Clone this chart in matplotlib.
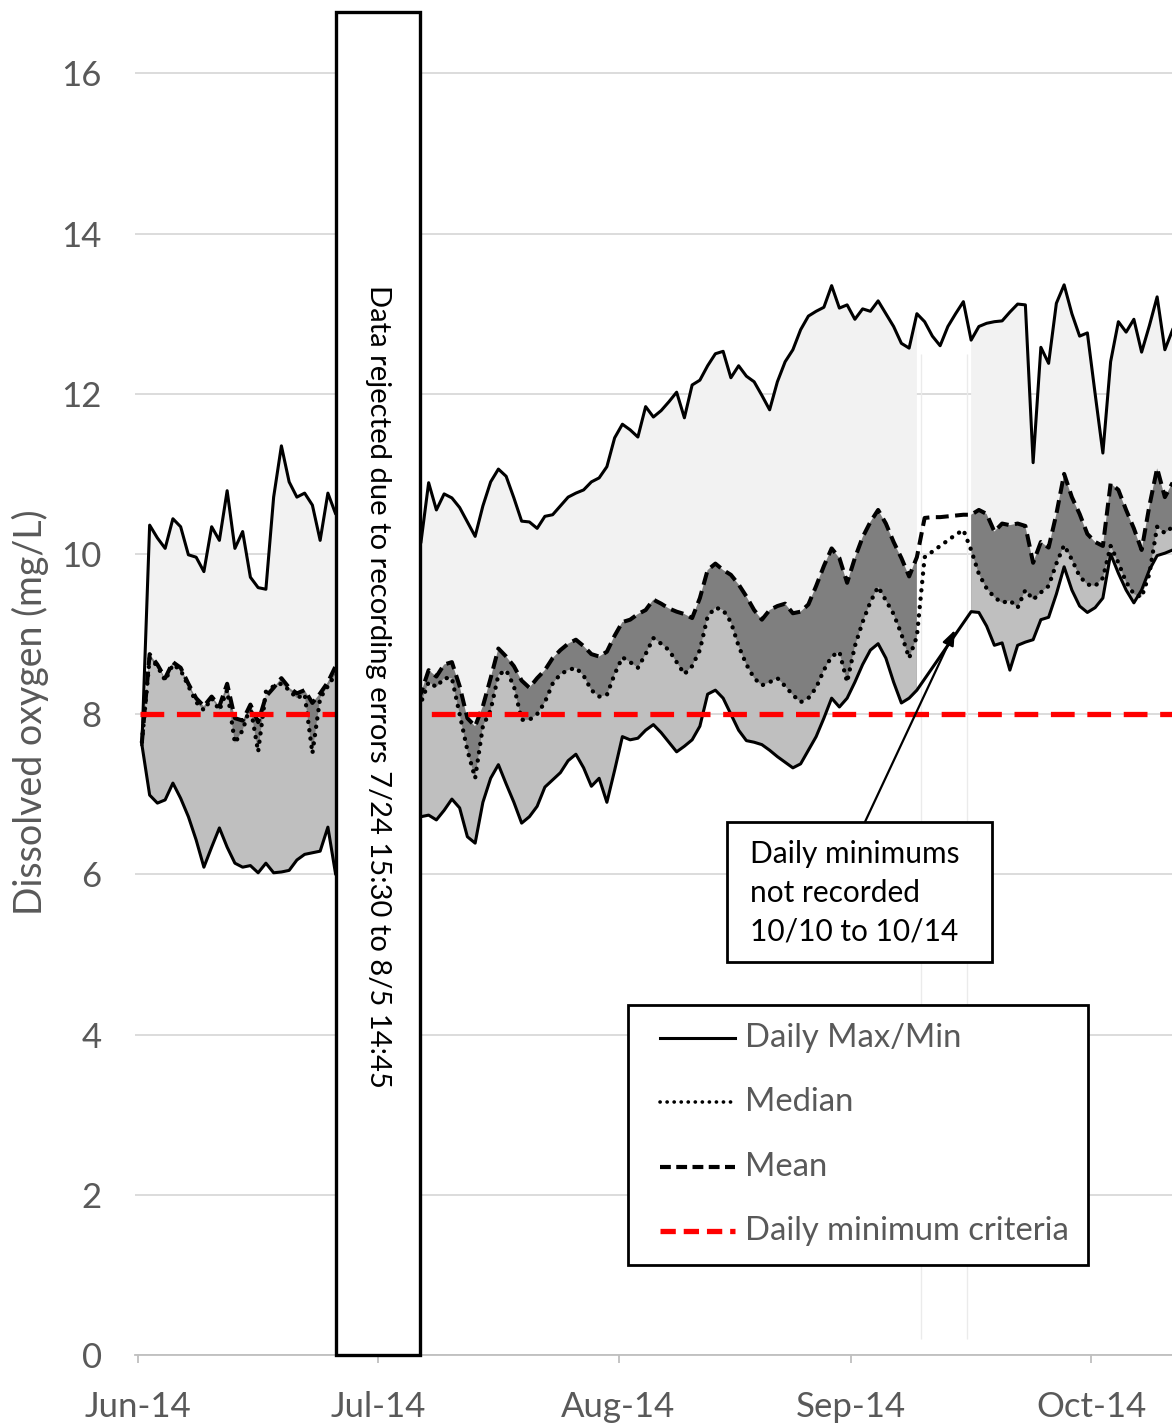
import numpy as np
import matplotlib.pyplot as plt
from matplotlib.lines import Line2D
from matplotlib.patches import Rectangle

plt.rcParams['font.family'] = ['Lato', 'DejaVu Sans']

# daily dissolved oxygen statistics (mg/L), one value per day; None = no data
daily_max = [7.62, 10.36, 10.2, 10.07, 10.44, 10.34, 9.99, 9.96, 9.78, 10.34,
             10.17, 10.79, 10.07, 10.28, 9.71, 9.58, 9.56, 10.71, 11.35, 10.9,
             10.71, 10.76, 10.61, 10.17, 10.76, 10.5,
             None, None, None, None, None, None, None, None, None, None,
             10.14, 10.89, 10.55, 10.75, 10.7, 10.58, 10.4, 10.22, 10.6, 10.9,
             11.06, 10.97, 10.7, 10.41, 10.4, 10.32, 10.47, 10.49, 10.6, 10.71,
             10.76, 10.8, 10.9, 10.95, 11.09, 11.45, 11.62, 11.55, 11.46, 11.84,
             11.71, 11.79, 11.9, 12.02, 11.7, 12.11, 12.17, 12.35, 12.5, 12.53,
             12.2, 12.35, 12.22, 12.15, 11.98, 11.8, 12.15, 12.4, 12.55, 12.8,
             12.97, 13.03, 13.08, 13.35, 13.07, 13.11, 12.93, 13.06, 13.03, 13.16,
             13.0, 12.84, 12.63, 12.57, 13.0,
             12.9, 12.72, 12.6, 12.84, 13.0, 13.15, 12.67, 12.84, 12.88, 12.9,
             12.91, 13.02, 13.12, 13.11, 11.14, 12.58, 12.38, 13.13, 13.36, 13.0,
             12.72, 12.76, 12.0, 11.26, 12.4, 12.9, 12.77, 12.93, 12.52, 12.85,
             13.21, 12.55, 12.8]

daily_min = [7.62, 6.99, 6.89, 6.93, 7.14, 6.95, 6.72, 6.43, 6.09, 6.34,
             6.58, 6.34, 6.14, 6.09, 6.11, 6.02, 6.14, 6.02, 6.03, 6.05,
             6.18, 6.25, 6.27, 6.29, 6.59, 6.0,
             None, None, None, None, None, None, None, None, None, None,
             6.72, 6.74, 6.68, 6.8, 6.94, 6.83, 6.47, 6.39, 6.9, 7.2,
             7.37, 7.13, 6.9, 6.64, 6.72, 6.85, 7.09, 7.18, 7.27, 7.42,
             7.5, 7.33, 7.1, 7.2, 6.9, 7.3, 7.72, 7.68, 7.7, 7.8,
             7.87, 7.77, 7.65, 7.53, 7.6, 7.68, 7.85, 8.25, 8.3, 8.2,
             8.0, 7.8, 7.67, 7.65, 7.62, 7.55, 7.47, 7.4, 7.33, 7.38,
             7.55, 7.72, 7.95, 8.2, 8.09, 8.2, 8.4, 8.62, 8.8, 8.88,
             8.7, 8.4, 8.14, 8.2, 8.3,
             None, None, None, None, None, None, 9.28, 9.27, 9.1, 8.86,
             8.89, 8.55, 8.86, 8.9, 8.93, 9.18, 9.21, 9.5, 9.84, 9.55,
             9.35, 9.27, 9.33, 9.45, 10.0, 9.76, 9.55, 9.39, 9.55, 9.8,
             9.98, 10.01, 10.05]

daily_mean = [7.65, 8.75, 8.62, 8.45, 8.65, 8.58, 8.38, 8.2, 8.1, 8.22,
              8.1, 8.38, 7.95, 7.92, 8.12, 7.9, 8.22, 8.33, 8.45, 8.33,
              8.26, 8.3, 8.14, 8.26, 8.4, 8.6,
              None, None, None, None, None, None, None, None, None, None,
              8.26, 8.55, 8.47, 8.62, 8.65, 8.35, 7.95, 7.85, 8.1, 8.45,
              8.82, 8.72, 8.6, 8.42, 8.33, 8.45, 8.55, 8.7, 8.8, 8.88,
              8.93, 8.85, 8.75, 8.72, 8.78, 8.98, 9.15, 9.18, 9.25, 9.3,
              9.43, 9.38, 9.32, 9.28, 9.25, 9.2, 9.45, 9.8, 9.88, 9.8,
              9.74, 9.62, 9.47, 9.3, 9.18, 9.3, 9.35, 9.38, 9.26, 9.28,
              9.37, 9.6, 9.85, 10.07, 9.95, 9.64, 9.95, 10.21, 10.4, 10.55,
              10.38, 10.15, 9.95, 9.72, 9.96,
              10.45, 10.46, 10.46, 10.47, 10.48, 10.49, 10.49, 10.55, 10.5, 10.28,
              10.38, 10.36, 10.38, 10.35, 9.89, 10.15, 10.08, 10.5, 11.0, 10.71,
              10.5, 10.25, 10.15, 10.1, 10.88, 10.8, 10.55, 10.32, 10.05, 10.6,
              11.07, 10.71, 10.89]

daily_median = [7.65, 8.7, 8.6, 8.42, 8.62, 8.55, 8.35, 8.15, 8.05, 8.2,
                8.05, 8.3, 7.64, 7.8, 8.1, 7.53, 8.28, 8.35, 8.38, 8.3,
                8.2, 8.25, 7.51, 8.2, 8.35, 8.5,
                None, None, None, None, None, None, None, None, None, None,
                8.14, 8.4, 8.34, 8.45, 8.45, 8.0, 7.55, 7.2, 7.85, 8.05,
                8.49, 8.55, 8.35, 7.93, 7.93, 8.0, 8.15, 8.38, 8.5, 8.55,
                8.58, 8.48, 8.3, 8.22, 8.24, 8.5, 8.71, 8.65, 8.58, 8.75,
                8.95, 8.88, 8.8, 8.65, 8.5, 8.6, 8.8, 9.22, 9.33, 9.3,
                9.15, 8.85, 8.62, 8.45, 8.36, 8.4, 8.45, 8.35, 8.24, 8.15,
                8.2, 8.33, 8.55, 8.72, 8.78, 8.4, 8.85, 9.15, 9.4, 9.59,
                9.42, 9.25, 9.0, 8.7, 8.97,
                9.96, 10.03, 10.1, 10.17, 10.24, 10.3, 10.05, 9.75, 9.57, 9.46,
                9.39, 9.42, 9.33, 9.55, 9.43, 9.52, 9.6, 9.88, 10.11, 9.93,
                9.72, 9.62, 9.6, 9.7, 10.1, 9.89, 9.65, 9.5, 9.46, 9.75,
                10.34, 10.26, 10.34]

month_ticks = [0, 31, 62, 92, 123]
month_labels = ['Jun-14', 'Jul-14', 'Aug-14', 'Sep-14', 'Oct-14']
criteria = 8.0
rejected_days = (25.55, 36.4)

mx = np.array(daily_max, dtype=float)
mn = np.array(daily_min, dtype=float)
mean = np.array(daily_mean, dtype=float)
med = np.array(daily_median, dtype=float)
days = np.arange(len(mx)) + 0.5

grey_text = '#595959'
solid = '-'
dashed = (0, (3.2, 1.6))
dotted = (0, (0.05, 1.9))
red_dash = (0, (4.5, 2.4))

fig = plt.figure(figsize=(11.72, 14.27), dpi=100)
ax = fig.add_axes([135 / 1172, 72 / 1427, 1037 / 1172, 1345.7 / 1427])
ax.set_xlim(-0.39, 133.42)
ax.set_ylim(0, 16.8)

# shaded bands: max-mean light, mean-median dark, median-min mid grey
ax.fill_between(days, mn, mx, color='#f2f2f2', lw=0, zorder=1)
ax.fill_between(days, mn, mean, color='#7f7f7f', lw=0, zorder=1)
ax.fill_between(days, mn, med, color='#bfbfbf', lw=0, zorder=1)

# faint edges where the minimum record is missing
gap = np.where(np.isnan(mn) & ~np.isnan(mx))[0]
ax.vlines([days[gap[0]] - 0.5, days[gap[-1]] + 0.5], 0.2, 12.5,
          color='#ebebeb', lw=1, zorder=1)

for series, style, width in [(mx, solid, 2.2), (mn, solid, 2.2),
                             (mean, dashed, 2.9), (med, dotted, 3.1)]:
    ok = ~np.isnan(series)
    ax.plot(days[ok], series[ok], color='black', lw=width, linestyle=style,
            dash_capstyle='round' if style is dotted else 'butt', zorder=3)

ax.hlines(criteria, days[0] - 0.3, ax.get_xlim()[1], color='#ff0000', lw=3.8,
          linestyles=red_dash, zorder=4)

# rejected data window
x0, x1 = rejected_days
ax.add_patch(Rectangle((x0, 0), x1 - x0, 16.77, facecolor='white',
                       edgecolor='black', lw=2.4, zorder=5, clip_on=False))
ax.text((x0 + x1) / 2, 8.35,
        'Data rejected due to recording errors 7/24 15:30 to 8/5 14:45',
        rotation=-90, ha='center', va='center', fontsize=21, color='black',
        zorder=6)

# missing minimum note
ax.annotate('', xy=(105.4, 9.05), xytext=(93.8, 6.654),
            arrowprops=dict(arrowstyle='-|>,head_length=0.9,head_width=0.35',
                            color='black', lw=1.6, shrinkA=0, shrinkB=0),
            zorder=6)
ax.add_patch(Rectangle((76.0, 4.906), 34.2, 1.748, facecolor='white',
                       edgecolor='black', lw=2, zorder=7))
ax.text(79.0, 5.77, 'Daily minimums\nnot recorded\n10/10 to 10/14',
        ha='left', va='center', fontsize=21.5, color='black', linespacing=1.48,
        zorder=8)

ax.set_yticks(range(0, 17, 2))
ax.yaxis.grid(True, color='#d9d9d9', lw=1.3)
ax.set_axisbelow(True)
for side in ['left', 'right', 'top']:
    ax.spines[side].set_visible(False)
ax.spines['bottom'].set_color('#bfbfbf')
ax.spines['bottom'].set_linewidth(1.3)
ax.set_xticks(month_ticks)
ax.set_xticklabels(month_labels)
ax.tick_params(axis='x', direction='out', length=6, width=1.3, color='#bfbfbf',
               labelsize=25, labelcolor=grey_text, pad=20)
for lab in ax.get_xticklabels():
    lab.set_x(lab.get_position()[0])
ax.tick_params(axis='y', length=0, labelsize=25, labelcolor=grey_text, pad=24)
ax.set_ylabel('Dissolved oxygen (mg/L)', fontsize=27, color=grey_text,
              va='center')
ax.yaxis.set_label_coords(-0.101, 0.478)

# legend, drawn in figure coordinates
legend_rows = [
    ('Daily Max/Min', 'black', solid, 2.2),
    ('Median', 'black', dotted, 2.6),
    ('Mean', 'black', (0, (2.6, 1.3)), 3.0),
    ('Daily minimum criteria', '#ff0000', (0, (2.9, 1.5)), 3.8),
]
fig.add_artist(Rectangle((0.5358, 0.1135), 0.3925, 0.1822, facecolor='white',
                         edgecolor='black', lw=2, transform=fig.transFigure,
                         zorder=8))
for row, (label, colour, style, width) in enumerate(legend_rows):
    fy = 0.2726 - row * 0.0451
    fig.add_artist(Line2D([0.5631, 0.6271], [fy, fy], color=colour, lw=width,
                          linestyle=style, transform=fig.transFigure,
                          dash_capstyle='round' if style is dotted else 'butt',
                          zorder=9))
    fig.text(0.6357, fy, label, ha='left', va='center', fontsize=23.6,
             color=grey_text, zorder=9)

fig.savefig('out.png', dpi=100)
